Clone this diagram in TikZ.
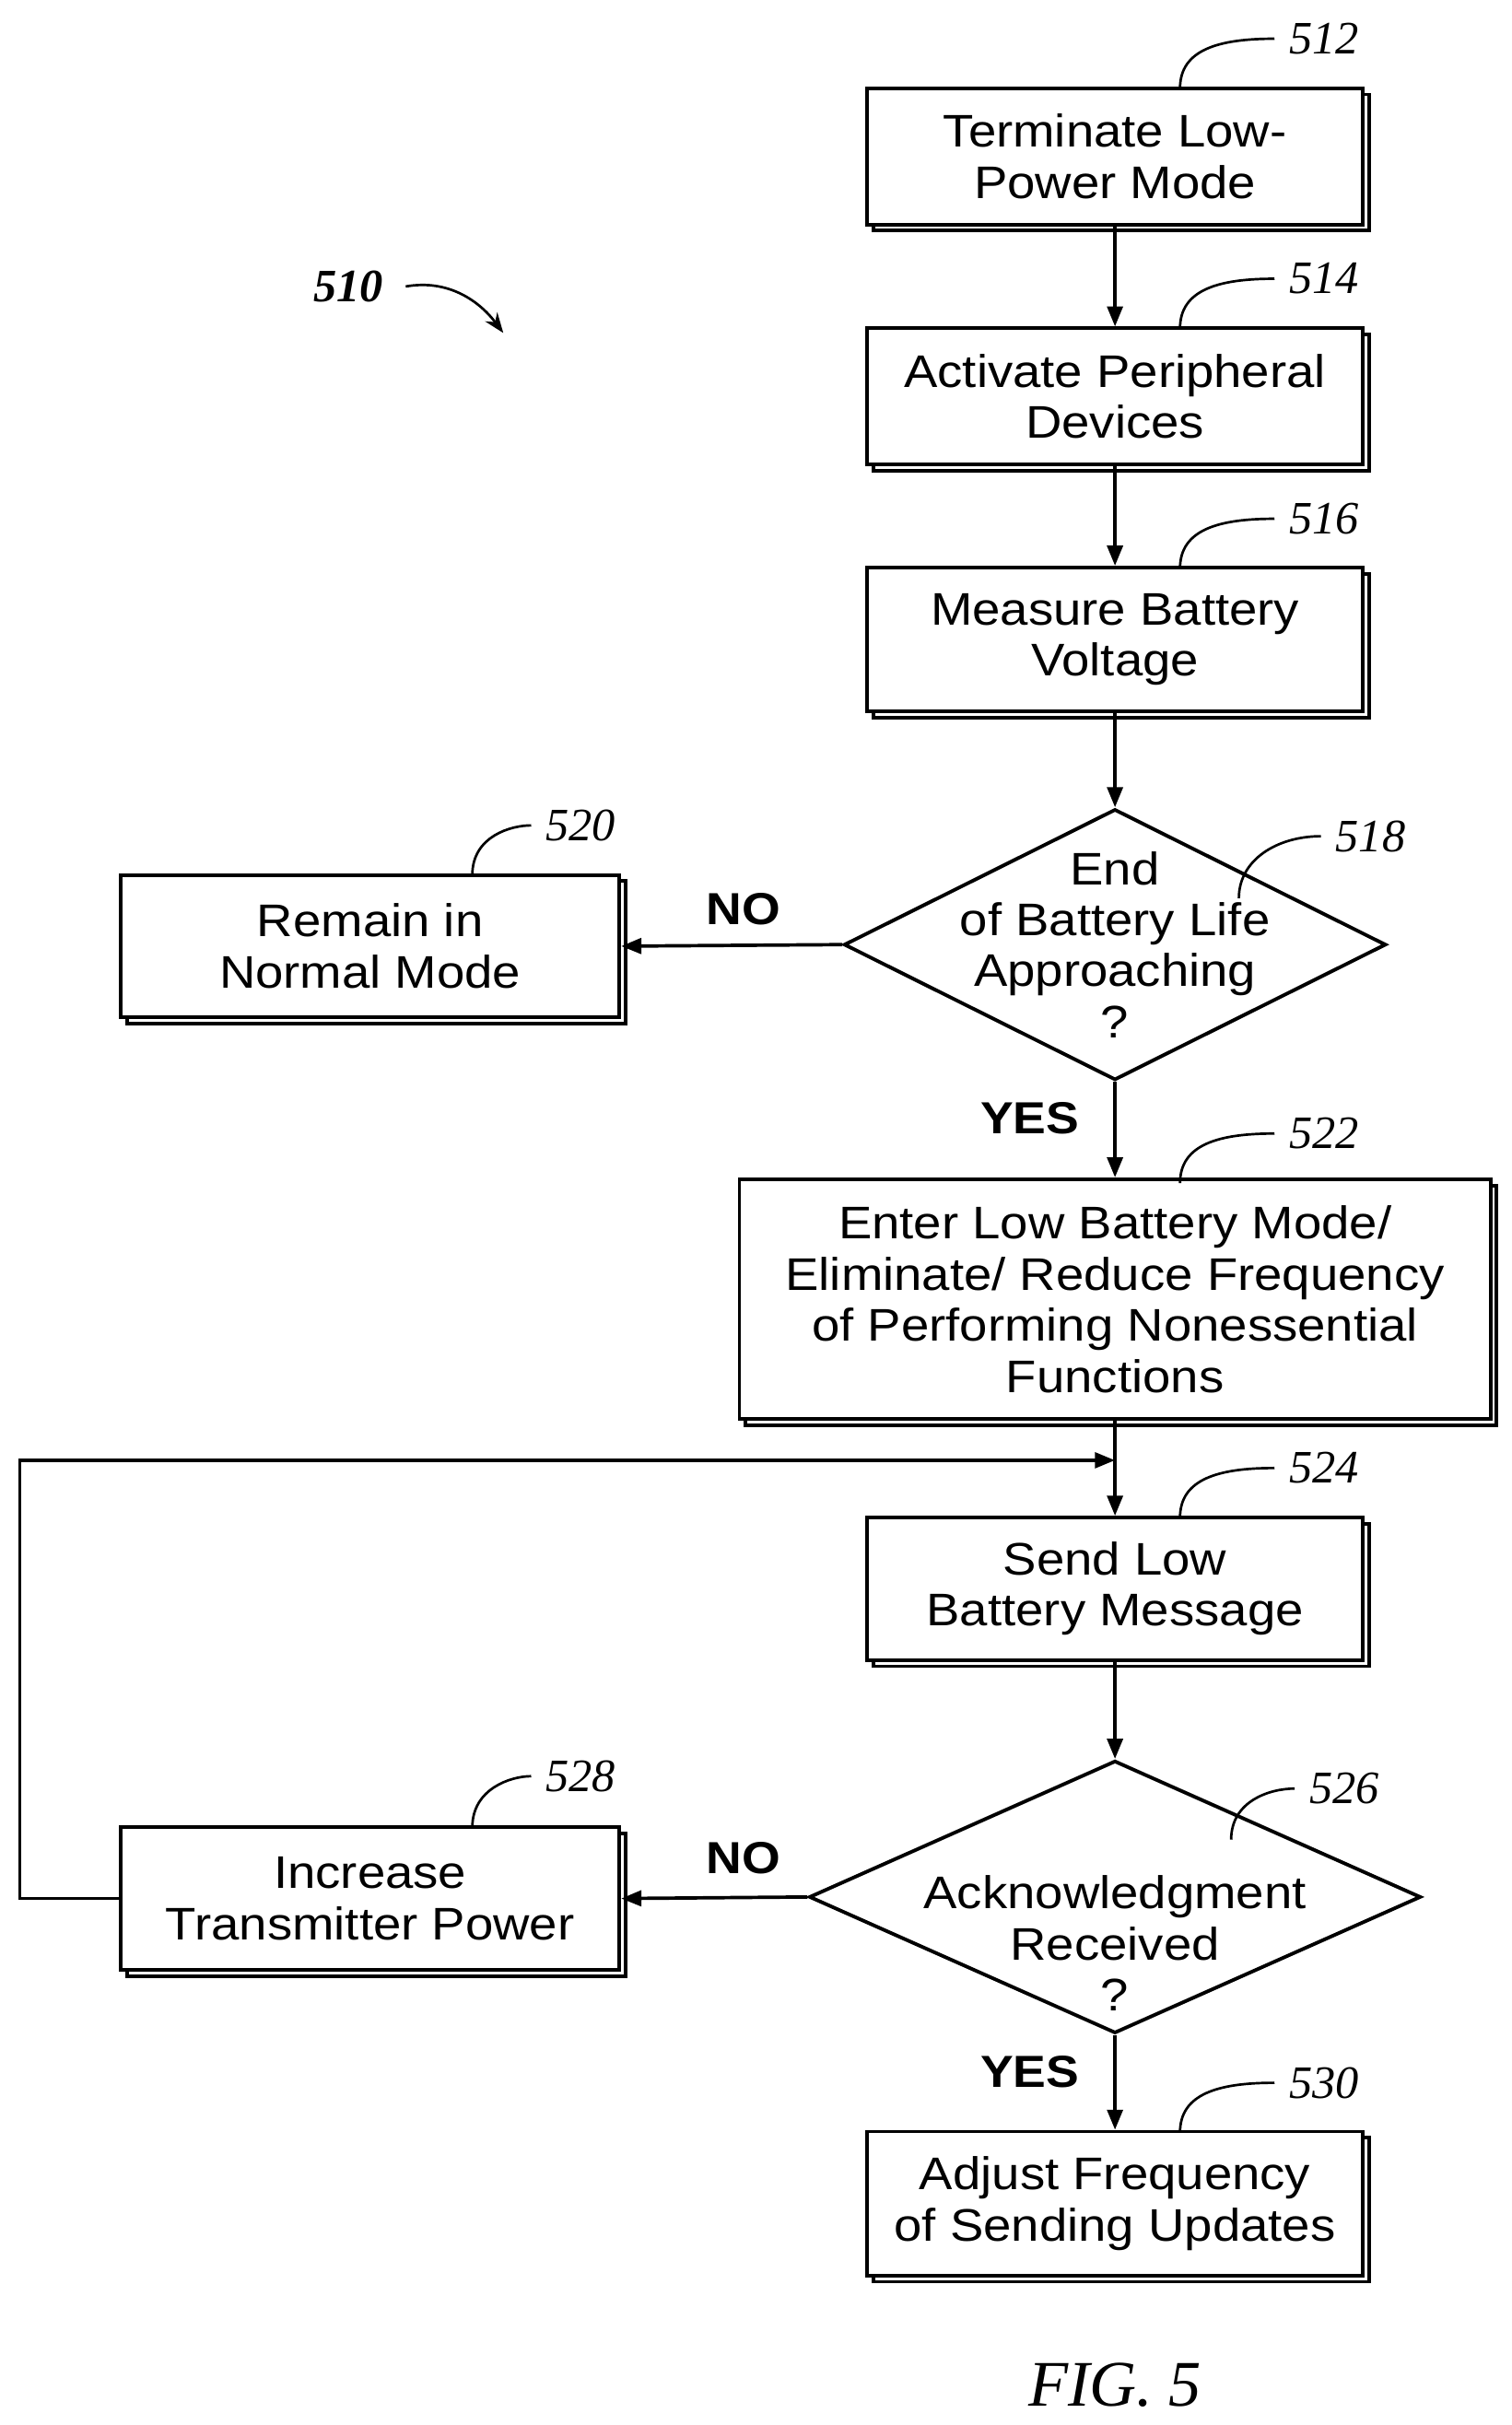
\documentclass[tikz,border=0pt]{standalone}
\usepackage{fontspec}
\setmainfont[FakeStretch=1.1]{Liberation Sans}
\newfontfamily\refs{Liberation Serif}
\usetikzlibrary{shapes.geometric,arrows.meta}
\begin{document}
\begin{tikzpicture}[x=1pt,y=-1pt,
 box/.style={draw,line width=2.3pt,fill=white,font=\fontsize{29.5}{33}\selectfont,align=center,inner sep=0pt,
   preaction={draw,line width=2.3pt,transform canvas={xshift=4pt,yshift=-4pt}}},
 ar/.style={line width=2.2pt,-{Triangle[length=13pt,width=10pt]}},
 lab/.style={font=\refs\itshape\fontsize{30}{30}\selectfont},
 yn/.style={font=\bfseries\fontsize{29}{30}\selectfont},
 tick/.style={line width=1.6pt}]
\useasboundingbox (0,0) rectangle (976,1566);
\node[box,minimum width=320pt,minimum height=88pt] (b512) at (720,101) {Terminate Low-\\Power Mode};
\node[box,minimum width=320pt,minimum height=88pt] (b514) at (720,256) {Activate Peripheral\\Devices};
\node[box,minimum width=320pt,minimum height=93pt] (b516) at (720,413) {Measure Battery\\Voltage};
\node[draw,line width=2.3pt,diamond,minimum width=350pt,minimum height=175pt,inner sep=0pt] (d518) at (720,610) {};
\node[font=\fontsize{29.5}{33}\selectfont,align=center] at (720,610) {End\\of Battery Life\\Approaching\\?};
\node[box,minimum width=322pt,minimum height=92pt] (b520) at (239,611) {Remain in\\Normal Mode};
\node[box,minimum width=485pt,minimum height=155pt] (b522) at (720,839) {Enter Low Battery Mode/\\Eliminate/ Reduce Frequency\\of Performing Nonessential\\Functions};
\node[box,minimum width=320pt,minimum height=92pt] (b524) at (720,1026) {Send Low\\Battery Message};
\node[draw,line width=2.3pt,diamond,minimum width=395pt,minimum height=176pt,inner sep=0pt] (d526) at (720,1225) {};
\node[font=\fontsize{29.5}{33}\selectfont,align=center] at (720,1255) {Acknowledgment\\Received\\?};
\node[box,minimum width=322pt,minimum height=92pt] (b528) at (239,1226) {Increase\\Transmitter Power};
\node[box,minimum width=320pt,minimum height=93pt] (b530) at (720,1423) {Adjust Frequency\\of Sending Updates};
\draw[ar] (b512) -- (b514);
\draw[ar] (b514) -- (b516);
\draw[ar] (b516) -- (d518);
\draw[ar] (d518.west) -- (b520.east);
\draw[ar] (d518.south) -- (b522.north);
\draw[ar] (b522) -- (b524);
\draw[ar] (b524) -- (d526);
\draw[ar] (d526.west) -- (b528.east);
\draw[ar] (d526.south) -- (b530.north);
\coordinate (m) at (720,943);
\draw[ar] (b528.west) -- ++(-64,0) |- (m);
\node[yn] at (480,587) {NO};
\node[yn] at (480,1200) {NO};
\node[yn] at (665,722) {YES};
\node[yn] at (665,1338) {YES};
\foreach \t/\x/\y/\ax/\ay in {512/855/25/762/57,514/855/180/762/212,516/855/335/762/367,520/375/533/305/565,518/885/540/800/580,522/855/732/762/764,524/855/948/762/980,526/868/1155/795/1188,528/375/1147/305/1180,530/855/1345/762/1377}{
 \node[lab] at (\x,\y) {\t};
 \draw[tick] (\ax,\ay) .. controls (\ax,\ay-25) and (\ax+25,\y) .. (\x-32,\y);
}
\node[lab,font=\refs\bfseries\itshape\fontsize{30}{30}\selectfont] (r510) at (225,185) {510};
\coordinate (t510) at (325,215);
\draw[tick,-{Stealth[length=13pt]}] (262,185) .. controls (290,180) and (310,195) .. (t510);
\node[lab,font=\refs\itshape\fontsize{42}{42}\selectfont] at (720,1540) {FIG. 5};
\end{tikzpicture}
\end{document}
